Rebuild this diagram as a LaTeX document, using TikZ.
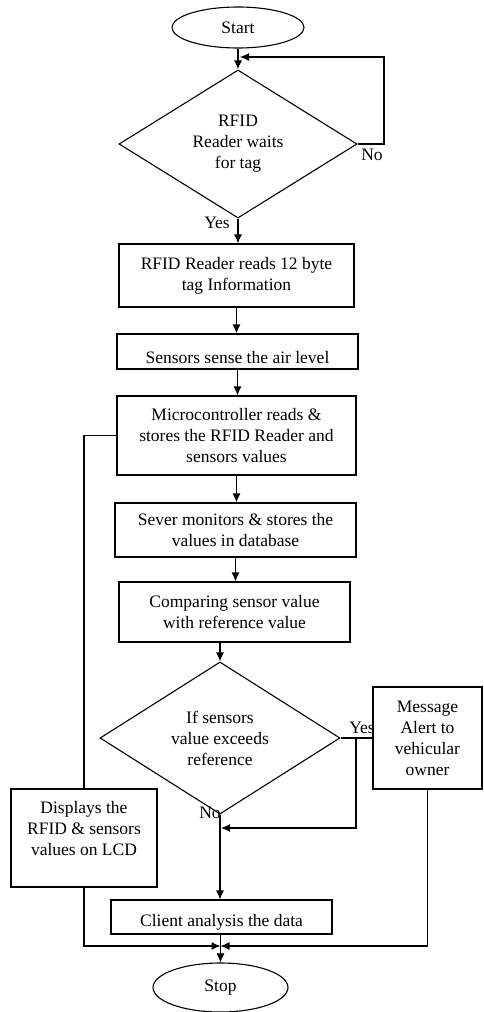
\documentclass[tikz,border=0pt]{standalone}
\usepackage{fontspec}
\setmainfont{Liberation Serif}
\usetikzlibrary{shapes.geometric, arrows.meta}

\begin{document}
\begin{tikzpicture}[x=1pt, y=-1pt, >={Latex[length=9pt, width=8pt]}, line width=1.1pt,
    every node/.style={font=\fontsize{17.5}{21}\selectfont, inner sep=0pt},
    box/.style={draw, fill=white, align=center},
    term/.style={draw, ellipse},
    decide/.style={draw, diamond, align=center}]
    % page frame
    \useasboundingbox (0,0) rectangle (483,1012);

    % start and first decision
    \node[term, minimum width=132pt, minimum height=41pt] (start) at (238,27.5) {Start};
    \node[decide, minimum width=238pt, minimum height=134pt] (wait) at (238,144) {RFID\\Reader waits\\for tag};
    \coordinate (loop) at (384,57);

    % main column
    \node[box, minimum width=235pt, minimum height=63pt] (read) at (236.5,275.5) {RFID Reader reads 12 byte\\tag Information};
    \node[box, minimum width=241pt, minimum height=35pt, text height=24pt] (sense) at (237.5,351.5) {Sensors sense the air level};
    \node[box, minimum width=239pt, minimum height=79pt] (mcu) at (236.5,435.5) {Microcontroller reads \&\\stores the RFID Reader and\\sensors values};
    \node[box, minimum width=241pt, minimum height=54pt] (server) at (235.5,530) {Sever monitors \& stores the\\values in database};
    \node[box, minimum width=231pt, minimum height=60pt] (compare) at (234.5,612) {Comparing sensor value\\with reference value};
    \node[decide, minimum width=240pt, minimum height=132pt] (exceed) at (220,738) {If sensors\\value exceeds\\reference};
    \node[box, minimum width=221pt, minimum height=34pt, text height=23pt] (client) at (221.5,917) {Client analysis the data};
    \node[term, minimum width=135pt, minimum height=49pt] (stop) at (220.5,987.5) {Stop};

    % side boxes
    \node[box, minimum width=146pt, minimum height=98pt, text depth=20pt] (lcd) at (84,838) {Displays the\\RFID \& sensors\\values on LCD};
    \node at (362,728) {Yes};
    \node[box, minimum width=109pt, minimum height=102pt] (alert) at (427.5,738) {Message\\Alert to\\vehicular\\owner};

    \coordinate (yjoin) at (356,738);
    \coordinate (njoin) at (221,828);
    \coordinate (merge) at (220.5,946);

    % labels
    \node at (372,155) {No};
    \node at (217,223) {Yes};
    \node at (210,813) {No};

    % connectors
    \draw[->] (start) -- (wait);
    \draw[->] (wait.east) -| (loop) -- ([xshift=2pt]start.south |- loop);
    \draw[->] (wait.south) -- (wait.south |- read.north);
    \draw[->] (read.south) -- (read.south |- sense.north);
    \draw[->] (sense.south) -- (sense.south |- mcu.north);
    \draw[->] (mcu.south) -- (mcu.south |- server.north);
    \draw[->] (server.south) -- (server.south |- compare.north);
    \draw[->] (exceed.north |- compare.south) -- (exceed.north);
    \draw (exceed.east) -- (alert.west);
    \draw[->] (yjoin) |- (njoin);
    \draw[->] (exceed.south) -- (exceed.south |- client.north);
    \draw (mcu.west) -| (lcd.north);
    \draw[->] (lcd.south) |- (merge);
    \draw[->] (alert.south) |- (merge);
    \draw[->] (stop.north |- client.south) -- (stop.north);
\end{tikzpicture}
\end{document}
